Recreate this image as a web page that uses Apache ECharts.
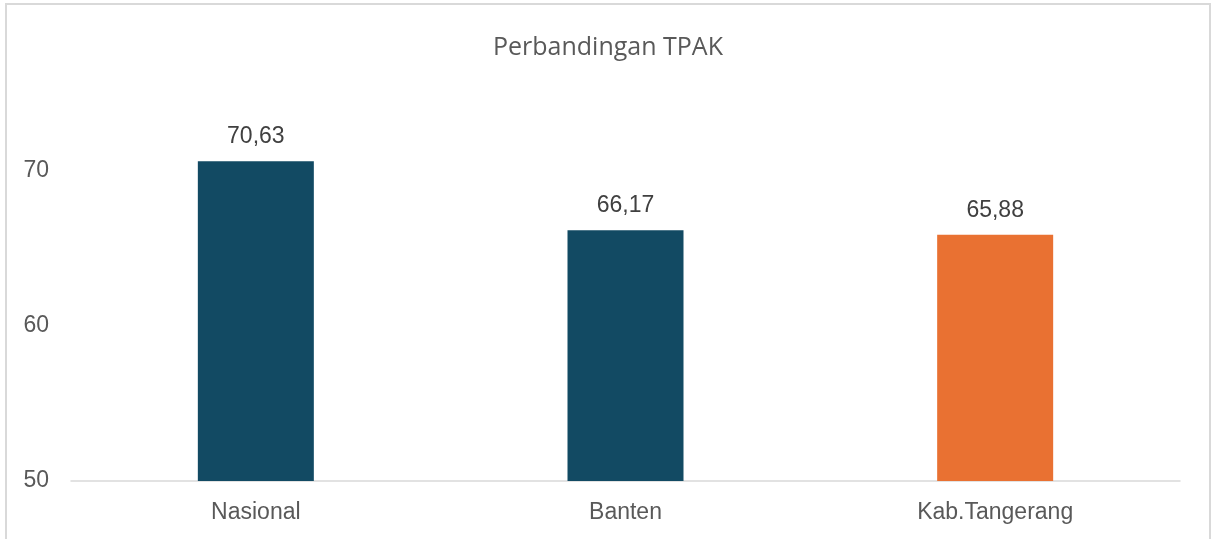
<!DOCTYPE html>
<html>
<head>
<meta charset="utf-8">
<script src="https://cdn.jsdelivr.net/npm/echarts@6/dist/echarts.min.js"></script>
<style>
  body { margin: 0; background: #fff; }
  #frame { position: absolute; left: 5px; top: 3px; width: 1202px; height: 540px; border: 2px solid #d9d9d9; border-bottom: none; }
  #main { position: absolute; left: 0; top: 0; width: 1216px; height: 539px; }
</style>
</head>
<body>
<div id="frame"></div>
<div id="main"></div>
<script>
const categories = ['Nasional', 'Banten', 'Kab.Tangerang']
const values = [70.63, 66.17, 65.88]
const barColors = ['#124A63', '#124A63', '#E97132']

const myChart = echarts.init(document.getElementById('main'))

const option = {
  title: {
    text: 'Perbandingan TPAK',
    left: 'center',
    top: 30,
    textStyle: { fontFamily: 'Open Sans', fontSize: 25, fontWeight: 'normal', color: '#595959' }
  },
  grid: { left: 71, right: 36, top: 93.5, bottom: 58 },
  xAxis: {
    type: 'category',
    data: categories,
    axisTick: { show: false },
    axisLine: { lineStyle: { color: '#d9d9d9', width: 1.5 } },
    axisLabel: { fontFamily: 'Liberation Sans', fontSize: 23, color: '#595959', margin: 20 }
  },
  yAxis: {
    type: 'value',
    min: 50,
    max: 75,
    interval: 10,
    splitLine: { show: false },
    axisLine: { show: false },
    axisTick: { show: false },
    axisLabel: {
      fontFamily: 'Liberation Sans', fontSize: 23, color: '#595959', margin: 22,
      formatter: v => (v % 10 === 0 ? String(v) : '')
    }
  },
  series: [
    {
      type: 'bar',
      barWidth: 116,
      data: values.map((v, i) => ({ value: v, itemStyle: { color: barColors[i] } })),
      label: {
        show: true,
        position: 'top',
        distance: 13,
        fontFamily: 'Liberation Sans',
        fontSize: 23,
        color: '#404040',
        formatter: p => p.value.toFixed(2).replace('.', ',')
      }
    }
  ]
}
myChart.setOption(option)
</script>
</body>
</html>
